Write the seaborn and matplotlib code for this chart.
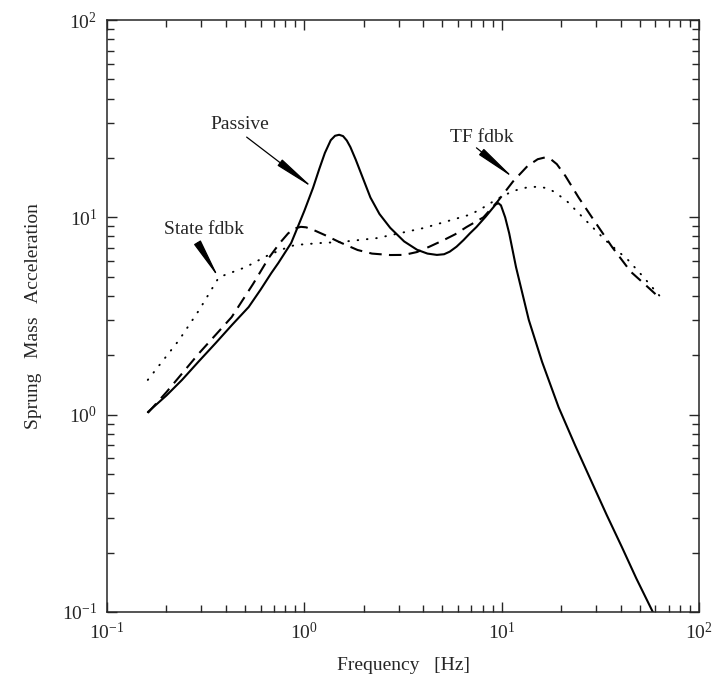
import matplotlib
matplotlib.use("Agg")
import matplotlib.pyplot as plt
import seaborn as sns
from matplotlib.ticker import LogLocator, NullFormatter

# ---- data ----
passive_f = [0.161, 0.2, 0.24, 0.29, 0.356, 0.43, 0.522, 0.6, 0.68, 0.738, 0.857, 0.898,
             1.0, 1.106, 1.19, 1.27, 1.36, 1.43, 1.50, 1.57, 1.64, 1.71, 1.82, 1.95,
             2.16, 2.4, 2.72, 3.2, 3.72, 4.2, 4.69, 5.1, 5.45, 5.9, 6.4, 6.9, 7.44,
             8.3, 8.9, 9.3, 9.6, 9.9, 10.4, 10.9, 11.8, 13.7, 16.0, 19.4, 23.5, 28.7,
             34.0, 40.6, 48.0, 58.2]
passive_a = [1.03, 1.25, 1.5, 1.85, 2.31, 2.85, 3.51, 4.3, 5.22, 5.87, 7.41, 8.3,
             10.8, 14.1, 17.6, 21.2, 24.6, 25.9, 26.2, 25.8, 24.5, 22.7, 19.6, 16.4,
             12.6, 10.4, 8.85, 7.55, 6.85, 6.55, 6.45, 6.5, 6.7, 7.1, 7.67, 8.3, 8.93,
             10.1, 11.0, 11.6, 11.8, 11.5, 10.0, 8.3, 5.6, 3.02, 1.85, 1.09, 0.70, 0.45,
             0.31, 0.213, 0.148, 0.1]

tf_f = [0.161, 0.2, 0.293, 0.428, 0.55, 0.658, 0.75, 0.828, 0.9, 0.96, 1.02, 1.12,
        1.27, 1.5, 1.86, 2.2, 2.72, 3.2, 3.72, 4.3, 5.08, 5.8, 6.63, 8.07, 9.5,
        11.4, 13.5, 15.2, 16.5, 17.6, 19.0, 21.0, 24.5, 29.0, 36.2, 45.0, 54.0, 63.1]
tf_a = [1.02, 1.3, 2.05, 3.12, 4.6, 6.2, 7.4, 8.3, 8.8, 8.95, 8.9, 8.6,
        8.13, 7.5, 6.83, 6.55, 6.44, 6.45, 6.67, 7.1, 7.67, 8.2, 8.93, 10.0, 12.0,
        15.2, 18.2, 19.7, 20.1, 19.8, 18.6, 16.2, 12.6, 9.8, 7.07, 5.3, 4.5, 3.90]

state_f = [0.161, 0.232, 0.293, 0.369, 0.504, 0.658, 0.828, 0.898, 1.21, 1.53, 2.34,
           4.03, 6.86, 7.7, 9.5, 11.4, 13.5, 15.4, 17.2, 18.8, 21.5, 24.5, 33.4,
           43.6, 52.0, 63.0]
state_a = [1.50, 2.39, 3.39, 4.97, 5.59, 6.44, 7.07, 7.24, 7.41, 7.5, 7.85,
           8.83, 10.3, 10.9, 12.4, 13.6, 14.2, 14.3, 14.0, 13.3, 12.0, 10.5, 7.67,
           6.08, 5.0, 4.0]

labels = ["Passive", "State fdbk", "TF fdbk"]

# ---- style ----
sns.set_style("ticks")
plt.rcParams["font.family"] = ["Liberation Serif", "DejaVu Serif"]
plt.rcParams["mathtext.fontset"] = "stix"
plt.rcParams["axes.linewidth"] = 1.1

fig = plt.figure(figsize=(7.17, 6.97), dpi=100)
ax = fig.add_axes([0.1492, 0.1220, 0.826, 0.8493])
ax.set_xscale("log")
ax.set_yscale("log")

sns.lineplot(x=passive_f, y=passive_a, ax=ax, color="black", lw=1.5,
             estimator=None, sort=False)
sns.lineplot(x=tf_f, y=tf_a, ax=ax, color="black", lw=1.5,
             linestyle=(0, (6, 3.5)), estimator=None, sort=False)
sns.lineplot(x=state_f, y=state_a, ax=ax, color="black", lw=1.4,
             linestyle=(0, (0.3, 4.5)), estimator=None, sort=False)
ax.lines[-1].set_dash_capstyle("round")

ax.set_xlim(0.1, 100)
ax.set_ylim(0.1, 100)

for axis in (ax.xaxis, ax.yaxis):
    axis.set_major_locator(LogLocator(base=10, numticks=10))
    axis.set_minor_locator(LogLocator(base=10, subs=range(2, 10), numticks=20))
    axis.set_minor_formatter(NullFormatter())

ax.tick_params(which="both", direction="in", top=True, right=True, width=1.0)
ax.tick_params(which="major", length=7, labelsize=14, pad=7)
ax.tick_params(which="minor", length=5)

ax.set_xlabel("Frequency   [Hz]", fontsize=14, labelpad=10)
ax.set_ylabel("Sprung   Mass   Acceleration", fontsize=14, labelpad=14)

arrow_kw = dict(arrowstyle="-|>,head_length=1.25,head_width=0.12",
                color="black", lw=0.9, mutation_scale=20, shrinkA=0, shrinkB=0)

ax.text(0.47, 29.4, labels[0], fontsize=14, ha="center", va="center")
ax.annotate("", xy=(1.106, 14.1), xytext=(0.51, 25.5), arrowprops=arrow_kw)

ax.text(0.31, 8.63, labels[1], fontsize=14, ha="center", va="center")
ax.annotate("", xy=(0.369, 4.92), xytext=(0.288, 7.41), arrowprops=arrow_kw)

ax.text(7.88, 25.5, labels[2], fontsize=14, ha="center", va="center")
ax.annotate("", xy=(11.5, 15.8), xytext=(7.44, 22.5), arrowprops=arrow_kw)

fig.savefig("out.png", dpi=100)
